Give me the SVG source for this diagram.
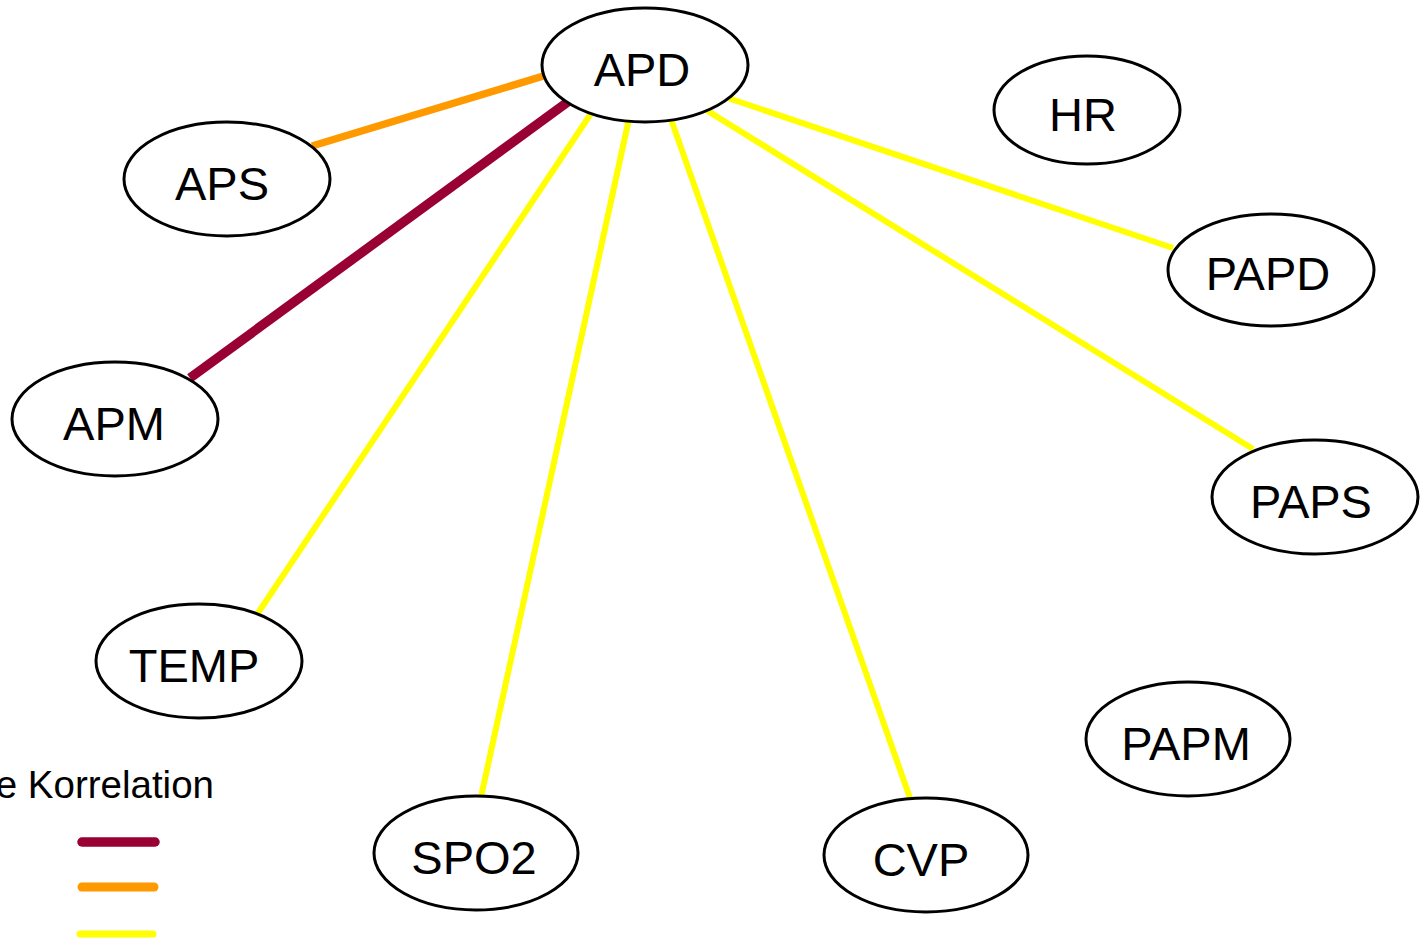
<svg xmlns="http://www.w3.org/2000/svg" width="1423" height="942" viewBox="0 0 1423 942">
<style>
.n ellipse{fill:#fff;stroke:#000;stroke-width:3}
.n text{font-family:"Liberation Sans",Arial,sans-serif;font-size:47px;text-anchor:middle;fill:#000}
.e line{stroke-linecap:butt}
.y{stroke:#ffff00;stroke-width:6}
.o{stroke:#ff9900;stroke-width:7.5}
.m{stroke:#990033;stroke-width:9.5}
.lg{stroke-linecap:round}
</style>
<rect width="1423" height="942" fill="#fff"/>
<g id="connectors" class="e">
<line class="o" x1="560" y1="71" x2="312" y2="146"/>
<line class="m" x1="580" y1="93" x2="190" y2="378"/>
<line class="y" x1="600" y1="100" x2="254" y2="619"/>
<line class="y" x1="632" y1="105" x2="481" y2="797"/>
<line class="y" x1="666" y1="105" x2="910" y2="798"/>
<line class="y" x1="690" y1="100" x2="1253" y2="449"/>
<line class="y" x1="710" y1="92" x2="1173" y2="248"/>
</g>
<g id="APD" class="n"><ellipse cx="645" cy="65" rx="103" ry="57"/><text x="642" y="86">APD</text></g>
<g id="APS" class="n"><ellipse cx="227" cy="179" rx="103" ry="57"/><text x="222" y="200">APS</text></g>
<g id="APM" class="n"><ellipse cx="115" cy="419" rx="103" ry="57"/><text x="114" y="440">APM</text></g>
<g id="TEMP" class="n"><ellipse cx="199" cy="661" rx="103" ry="57"/><text x="194" y="682">TEMP</text></g>
<g id="SPO2" class="n"><ellipse cx="476" cy="853" rx="102" ry="57"/><text x="474" y="874">SPO2</text></g>
<g id="CVP" class="n"><ellipse cx="926" cy="855" rx="102" ry="57"/><text x="921" y="876">CVP</text></g>
<g id="PAPM" class="n"><ellipse cx="1188" cy="739" rx="102" ry="57"/><text x="1186" y="760">PAPM</text></g>
<g id="PAPS" class="n"><ellipse cx="1315" cy="497" rx="103" ry="57"/><text x="1311" y="518">PAPS</text></g>
<g id="PAPD" class="n"><ellipse cx="1271" cy="270" rx="103" ry="56"/><text x="1268" y="290">PAPD</text></g>
<g id="HR" class="n"><ellipse cx="1087" cy="110" rx="93" ry="54"/><text x="1083" y="131">HR</text></g>
<g id="legend">
<text x="214" y="798" font-family="Liberation Sans, Arial, sans-serif" font-size="38.5" text-anchor="end" fill="#000">e Korrelation</text>
<line class="m lg" x1="82" y1="842" x2="155" y2="842"/>
<line class="lg" stroke="#ff9900" stroke-width="9" x1="82" y1="887" x2="154" y2="887"/>
<line class="lg" stroke="#ffff00" stroke-width="7" x1="80" y1="934" x2="153" y2="934"/>
</g>
</svg>
